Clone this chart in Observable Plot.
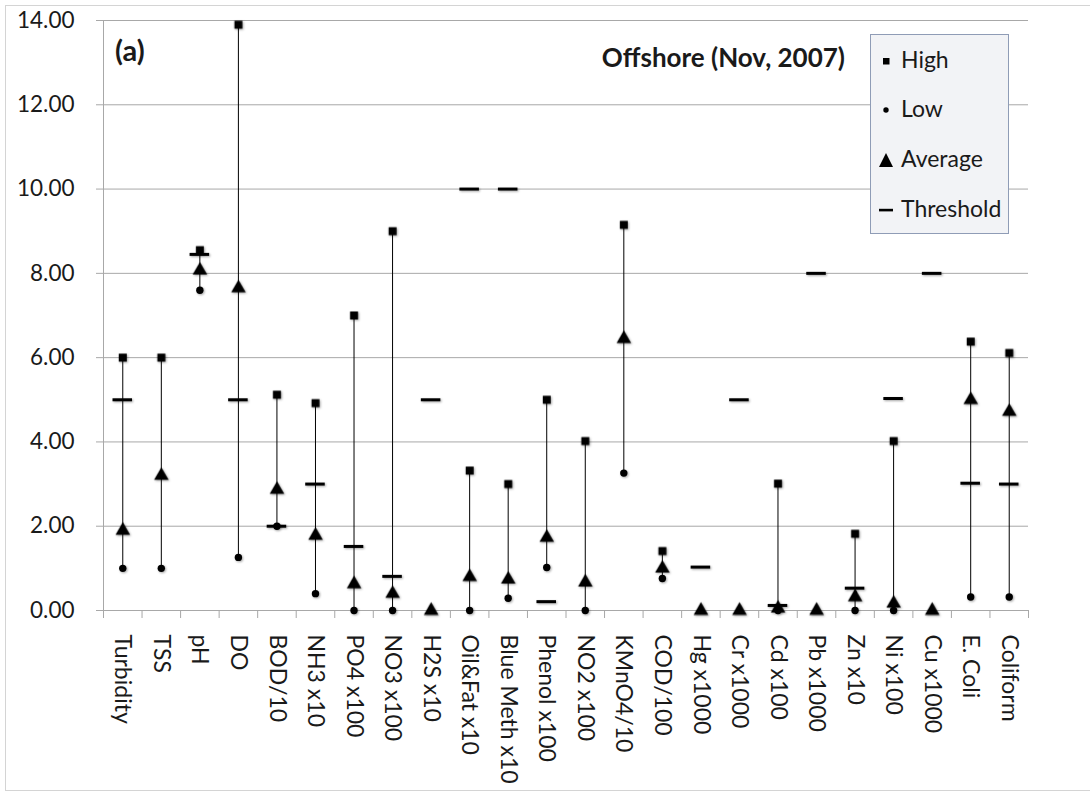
<!DOCTYPE html>
<html><head><meta charset="utf-8">
<script src="https://cdn.jsdelivr.net/npm/d3@7"></script>
<script src="https://cdn.jsdelivr.net/npm/@observablehq/plot@0.6"></script>
<style>
body{margin:0;background:#fff;font-family:Lato,sans-serif;color:#1a1a1a;}
#wrap{position:relative;width:1090px;height:793px;overflow:hidden;}
#frame{position:absolute;left:5px;top:5px;width:1100px;height:786px;border:1px solid #d4d4d4;box-sizing:border-box;}
#chart{position:absolute;left:0;top:0;}
.lbl{position:absolute;white-space:nowrap;line-height:1;}
#title{right:245px;top:44px;font-size:26px;font-weight:bold;}
#tag{left:115px;top:35px;font-size:29px;font-weight:bold;}
#legend{position:absolute;left:870px;top:34px;width:139px;height:200px;box-sizing:border-box;border:1px solid #8f9cb6;background:#f2f3f6;}
.lg{position:absolute;left:30px;font-size:23px;line-height:1;white-space:nowrap;}
.sym{position:absolute;left:7px;}
</style></head><body>
<div id="wrap"><div id="frame"></div><div id="chart"></div>
<div id="tag" class="lbl">(a)</div>
<div id="title" class="lbl">Offshore (Nov, 2007)</div>
<div id="legend"></div>
</div>
<script>
const categories = ["Turbidity","TSS","pH","DO","BOD/10","NH3 x10","PO4 x100","NO3 x100","H2S x10","Oil&Fat x10","Blue Meth x10","Phenol x100","NO2 x100","KMnO4/10","COD/100","Hg x1000","Cr x1000","Cd x100","Pb x1000","Zn x10","Ni x100","Cu x1000","E. Coli","Coliform"];
const high      = [6, 6, 8.55, 13.9, 5.12, 4.92, 7.0, 9.0, null, 3.32, 3.0, 5.0, 4.02, 9.15, 1.41, null, null, 3.01, null, 1.82, 4.02, null, 6.38, 6.11];
const low       = [1, 1, 7.6, 1.26, 2.0, 0.4, 0, 0, null, 0, 0.29, 1.02, 0, 3.26, 0.76, null, null, 0, null, 0, 0, null, 0.32, 0.32];
const average   = [1.9, 3.2, 8.07, 7.65, 2.87, 1.78, 0.63, 0.4, 0, 0.8, 0.74, 1.73, 0.67, 6.45, 1.0, 0, 0, 0.05, 0, 0.32, 0.17, 0, 5.0, 4.72];
const threshold = [5, null, 8.45, 5, 2.0, 3.0, 1.52, 0.81, 5, 10, 10, 0.21, null, null, null, 1.03, 5, 0.12, 8, 0.53, 5.03, 8, 3.02, 3.0];
const yTicks = [0, 2, 4, 6, 8, 10, 12, 14];
const legendItems = ["High", "Low", "Average", "Threshold"];

const data = categories.map((c, i) => ({cat: c, high: high[i], low: low[i], average: average[i], threshold: threshold[i]}));
const W = 1090, H = 793, mL = 103, mR = 62, mT = 20, mB = 183;
const bw = (W - mL - mR) / categories.length;
const grid = "#a8a8a8";

const plot = Plot.plot({
  width: W, height: H, marginLeft: mL, marginRight: mR, marginTop: mT, marginBottom: mB,
  style: {fontFamily: "Lato, sans-serif", fontSize: "22px", color: "#1a1a1a", background: "transparent", overflow: "visible"},
  x: {type: "band", domain: categories, padding: 0, round: false, label: null},
  y: {domain: [0, 14], label: null},
  marks: [
    Plot.gridY({ticks: yTicks, stroke: grid, strokeOpacity: 1}),
    Plot.ruleX([categories[0]], {x: d => d, dx: -bw / 2, stroke: grid}),
    Plot.ruleY([0], {stroke: grid}),
    Plot.ruleX(categories, {x: d => d, y1: 0, y2: 0, insetBottom: -8, dx: -bw / 2, stroke: grid}),
    Plot.ruleX([categories[categories.length - 1]], {x: d => d, y1: 0, y2: 0, insetBottom: -8, dx: bw / 2, stroke: grid}),
    Plot.axisY({ticks: yTicks, tickFormat: d => d.toFixed(2), tickSize: 7, tickPadding: 22, stroke: grid, fill: "#1a1a1a", fontSize: 22.5, label: null}),
    Plot.axisX({tickSize: 0, tickRotate: 90, tickPadding: 24, fontSize: 23, fill: "#1a1a1a", label: null}),
    Plot.ruleX(data.filter(d => d.high != null && d.low != null), {x: "cat", y1: "low", y2: "high", stroke: "#000", strokeWidth: 1}),
    Plot.dot(data.filter(d => d.high != null), {x: "cat", y: "high", symbol: "square", r: 4.5, fill: "#000", stroke: null}),
    Plot.dot(data.filter(d => d.low != null), {x: "cat", y: "low", symbol: "circle", r: 3.7, fill: "#000", stroke: null}),
    Plot.dot(data.filter(d => d.average != null), {x: "cat", y: "average", symbol: "triangle", r: 5.4, fill: "#000", stroke: null}),
    Plot.tickY(data.filter(d => d.threshold != null), {x: "cat", y: "threshold", stroke: "#000", strokeWidth: 3, insetLeft: 9.5, insetRight: 9.5})
  ]
});
document.getElementById("chart").appendChild(plot);
plot.querySelectorAll('g[aria-label="dot"], g[aria-label="tick"]').forEach(g => {
  g.style.filter = "drop-shadow(1.5px 1.5px 1px rgba(0,0,0,0.35))";
});

// legend
const lg = document.getElementById("legend");
const syms = [
  '<svg width="16" height="16"><rect x="5" y="5" width="6.5" height="6.5" fill="#000"/></svg>',
  '<svg width="16" height="16"><circle cx="8" cy="8" r="2.7" fill="#000"/></svg>',
  '<svg width="16" height="16"><path d="M8,1 L15,15 L1,15 Z" fill="#000"/></svg>',
  '<svg width="16" height="16"><rect x="1" y="6.8" width="14" height="2.6" fill="#000"/></svg>'
];
const baselines = [33, 82, 132, 182];
legendItems.forEach((name, i) => {
  const s = document.createElement("div");
  s.className = "sym";
  s.style.top = (baselines[i] - 15) + "px";
  s.innerHTML = syms[i];
  lg.appendChild(s);
  const t = document.createElement("div");
  t.className = "lg";
  t.style.top = (baselines[i] - 20.4) + "px";
  t.textContent = name;
  lg.appendChild(t);
});
</script>
</body></html>
